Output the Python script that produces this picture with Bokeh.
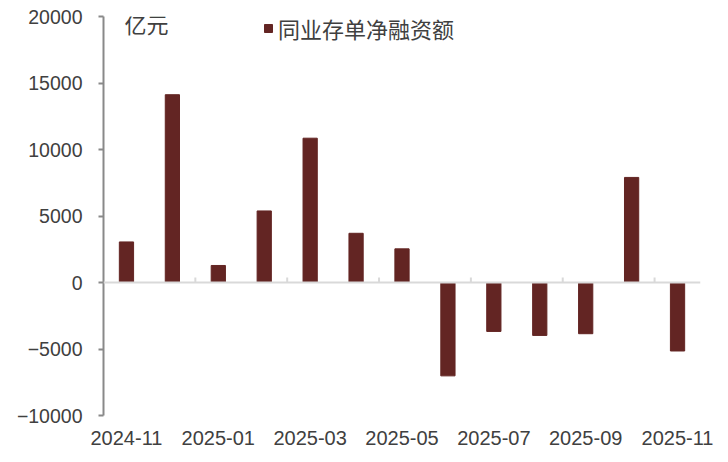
from bokeh.plotting import figure
from bokeh.models import (Range1d, FixedTicker, Span, Label, Legend, LegendItem,
                          ColumnDataSource)
from bokeh.embed import file_html
from bokeh.resources import INLINE

months = ["2024-11", "2024-12", "2025-01", "2025-02", "2025-03", "2025-04", "2025-05",
          "2025-06", "2025-07", "2025-08", "2025-09", "2025-10", "2025-11"]
values = [3050, 14120, 1280, 5380, 10850, 3700, 2530,
          -7020, -3680, -3980, -3850, 7900, -5150]
y_ticks = [-10000, -5000, 0, 5000, 10000, 15000, 20000]
series_name = "同业存单净融资额"
unit_label = "亿元"

BAR = "#632523"
TXT = "#404040"
AX = "#898989"
ZERO = "#d9d9d9"
NUMFONT = "Liberation Sans"
CJK = "Noto Sans CJK SC"

xs = list(range(len(months)))
src = ColumnDataSource(dict(x=xs, v=values))

p = figure(width=728, height=462, output_backend="svg", toolbar_location=None,
           x_range=Range1d(-0.5, len(months) - 0.5), y_range=Range1d(y_ticks[0], y_ticks[-1]),
           min_border_left=103, min_border_right=28, min_border_top=16, min_border_bottom=47)
p.outline_line_color = None
p.grid.visible = False
p.background_fill_color = "white"

bars = p.vbar(x="x", top="v", width=0.31, source=src, fill_color=BAR, line_color=BAR)

# zero line with boundary ticks
p.add_layout(Span(location=0, dimension="width", line_color=ZERO, line_width=2))
bounds = [i + 0.5 for i in xs[1:-1:2]]
p.segment(x0=bounds, x1=bounds, y0=[0] * len(bounds), y1=[380] * len(bounds),
          line_color=ZERO, line_width=2)

# y axis
ya = p.yaxis[0]
ya.ticker = FixedTicker(ticks=y_ticks)
ya.major_label_overrides = {t: (str(t).replace("-", "\u2212")) for t in y_ticks}
ya.axis_line_color = AX
ya.axis_line_width = 2
ya.major_tick_line_color = AX
ya.major_tick_line_width = 2
ya.major_tick_in = 0
ya.major_tick_out = 5
ya.minor_tick_line_color = None
ya.major_label_standoff = 16
ya.major_label_text_font = NUMFONT
ya.major_label_text_font_size = "19.5px"
ya.major_label_text_color = TXT

# x axis (labels only)
xa = p.xaxis[0]
xa.ticker = FixedTicker(ticks=xs[::2])
xa.major_label_overrides = {i: months[i] for i in xs[::2]}
xa.axis_line_color = None
xa.major_tick_line_color = None
xa.minor_tick_line_color = None
xa.major_label_standoff = 9
xa.major_label_text_font = NUMFONT
xa.major_label_text_font_size = "20px"
xa.major_label_text_color = TXT

p.add_layout(Label(x=21, y=393, x_units="screen", y_units="screen", text=unit_label,
                   text_font=CJK, text_font_size="22px", text_color=TXT,
                   text_baseline="middle"))

leg = Legend(items=[LegendItem(label=series_name, renderers=[bars])],
             location=(160, 371), glyph_width=10, glyph_height=10, label_standoff=5,
             padding=0, margin=0, spacing=0, border_line_color=None,
             background_fill_alpha=0, label_text_font=CJK, label_text_font_size="22px",
             label_text_color=TXT)
p.add_layout(leg)

open("out.html", "w").write(file_html(p, INLINE))
